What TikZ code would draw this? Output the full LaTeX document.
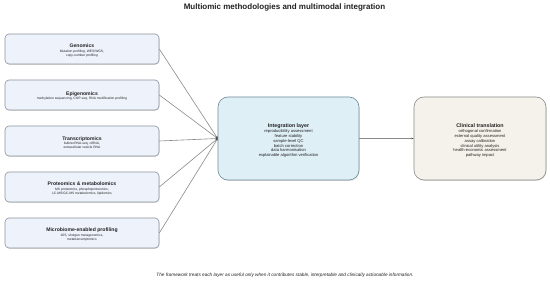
\documentclass[tikz,border=0pt]{standalone}
\usepackage{fontspec}
\setmainfont{Liberation Sans}
\usetikzlibrary{shadows,arrows.meta}
\definecolor{lfill}{HTML}{EEF3FB}
\definecolor{ldraw}{HTML}{8C939C}
\definecolor{ifill}{HTML}{DFEFF6}
\definecolor{idraw}{HTML}{6E8C96}
\definecolor{cfill}{HTML}{F4F2EA}
\definecolor{cdraw}{HTML}{8A8A8A}
\definecolor{conn}{HTML}{8A8A8A}
\definecolor{txt}{HTML}{222222}
\newcommand{\ltitle}{\fontsize{5.1}{5.6}\selectfont\bfseries}
\newcommand{\lsub}{\fontsize{3.3}{3.5}\selectfont}
\newcommand{\ctitle}{\fontsize{5.3}{5.8}\selectfont\bfseries}
\newcommand{\csub}{\fontsize{4.1}{4.9}\selectfont}
\begin{document}
\begin{tikzpicture}[x=1pt,y=-1pt,
  omicbox/.style={draw=ldraw, fill=lfill, line width=0.6pt, rounded corners=4pt,
    minimum width=154pt, minimum height=30pt, inner sep=0pt,
    drop shadow={shadow xshift=0.5pt, shadow yshift=-0.8pt, opacity=0.25}},
  omictext/.style={align=center, text=txt, font=\lsub, inner sep=0pt},
  intbox/.style={draw=idraw, fill=ifill, line width=0.6pt, rounded corners=10pt,
    minimum width=141pt, minimum height=83pt, inner sep=0pt,
    drop shadow={shadow xshift=0.6pt, shadow yshift=-0.9pt, opacity=0.25}},
  clinbox/.style={draw=cdraw, fill=cfill, line width=0.6pt, rounded corners=10pt,
    minimum width=132pt, minimum height=83pt, inner sep=0pt,
    drop shadow={shadow xshift=0.6pt, shadow yshift=-0.9pt, opacity=0.25}},
  bigtext/.style={align=center, text=txt, font=\csub, inner sep=0pt},
  link/.style={draw=conn, line width=0.6pt, -{Stealth[length=2.2pt,width=1.8pt,color=black!70]}}
]
\useasboundingbox (0,0) rectangle (550,283);
\fill[white] (0,0) rectangle (550,283);

\node[text=txt, font=\fontsize{8}{9}\selectfont\bfseries] (title) at (284.5,7.5)
  {Multiomic methodologies and multimodal integration};

\node[omicbox] (gen) at (82,49) {};
\node[omicbox] (epi) at (82,95) {};
\node[omicbox] (tra) at (82,141) {};
\node[omicbox] (pro) at (82,187) {};
\node[omicbox] (mic) at (82,233) {};

\node[omictext] (gent) at ([yshift=-1.4pt]gen.center)
  {{\ltitle Genomics}\\[1.2pt]{\lsub Mutation profiling, WES/WGS,}\\{\lsub copy-number profiling}};
\node[omictext] (epit) at ([yshift=-1.1pt]epi.center)
  {{\ltitle Epigenomics}\\[1.2pt]{\lsub methylation sequencing, ChIP-seq, RNA modification profiling}};
\node[omictext] (trat) at ([yshift=-1.4pt]tra.center)
  {{\ltitle Transcriptomics}\\[1.2pt]{\lsub bulk/scRNA-seq, ctRNA,}\\{\lsub extracellular vesicle RNA}};
\node[omictext] (prot) at ([yshift=-1.4pt]pro.center)
  {{\ltitle Proteomics \& metabolomics}\\[1.2pt]{\lsub MS proteomics, phosphoproteomics,}\\{\lsub LC-MS/GC-MS metabolomics, lipidomics}};
\node[omictext] (mict) at ([yshift=-1.4pt]mic.center)
  {{\ltitle Microbiome-enabled profiling}\\[1.2pt]{\lsub 16S, shotgun metagenomics,}\\{\lsub metatranscriptomics}};

\node[intbox] (int) at (288.5,138.5) {};
\node[clinbox] (cli) at (480,138.5) {};
\node[bigtext] (intt) at ([yshift=-2pt]int.center)
  {{\ctitle Integration layer}\\[0.4pt]{\csub reproducibility assessment}\\{\csub feature stability}\\{\csub sample-level QC}\\{\csub batch correction}\\{\csub data harmonisation}\\{\csub explainable algorithm verification}};
\node[bigtext] (clit) at ([yshift=-2pt]cli.center)
  {{\ctitle Clinical translation}\\[0.4pt]{\csub orthogonal confirmation}\\{\csub external quality assessment}\\{\csub assay calibration}\\{\csub clinical utility analysis}\\{\csub health-economic assessment}\\{\csub pathway impact}};

\foreach \n in {gen,epi,tra,pro,mic}
  \draw[link] (\n.east) -- (int.west);
\draw[link] (int.east) -- (cli.west);

\node[text=txt, font=\fontsize{4.7}{5.5}\selectfont\itshape] (foot) at (285,275)
  {The framework treats each layer as useful only when it contributes stable, interpretable and clinically actionable information.};
\end{tikzpicture}
\end{document}
